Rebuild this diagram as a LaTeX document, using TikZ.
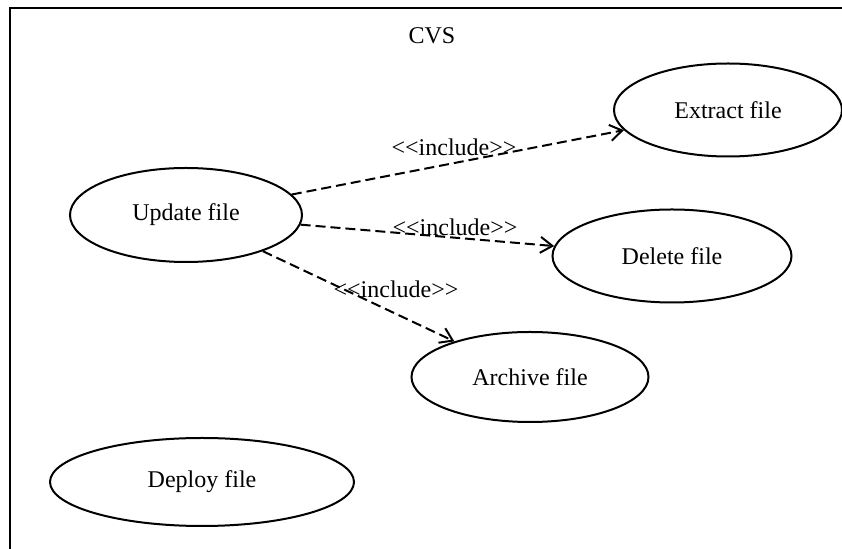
\documentclass[tikz,border=0pt]{standalone}
\usepackage{fontspec}
\setmainfont{Liberation Serif}
\usetikzlibrary{shapes.geometric, arrows.meta}

\tikzset{
  usecase/.style = {ellipse, draw, black, line width = 1pt, inner sep = 0pt,
    font = \fontsize{12}{14}\selectfont},
  include/.style = {black, line width = 1pt, dash pattern = on 5pt off 2.5pt,
    -{Straight Barb[length = 6pt, width = 8pt]}},
  tag/.style = {black, inner sep = 0pt, font = \fontsize{12}{14}\selectfont},
  frame/.style = {black, line width = 1.4pt}
}

\begin{document}
\begin{tikzpicture} [x = 0.5pt, y = -0.5pt]
\useasboundingbox (0, 0) rectangle (842, 549);
\draw[frame] (10, 549) -- (10, 8) -- (842, 8);
\node[tag] (cvs) at (432, 36){CVS};
\node[usecase, minimum width = 116pt, minimum height = 47pt] (update) at (186, 215){Update file};
\node[usecase, minimum width = 114pt, minimum height = 46.5pt] (extract) at (728, 110){Extract file};
\node[usecase, minimum width = 119.5pt, minimum height = 46.5pt] (delete) at (672, 256){Delete file};
\node[usecase, minimum width = 118.5pt, minimum height = 45pt] (archive) at (530, 377){Archive file};
\node[usecase, minimum width = 152pt, minimum height = 44pt] (deploy) at (202, 482){Deploy file};
\draw[include] (update) -- (extract);
\draw[include] (update) -- (delete);
\draw[include] (update) -- (archive);
\node[tag] (incextract) at (454, 147){{<}{<}include{>}{>}};
\node[tag] (incdelete) at (455, 227){{<}{<}include{>}{>}};
\node[tag] (incarchive) at (396, 289){{<}{<}include{>}{>}};
\end{tikzpicture}
\end{document}
